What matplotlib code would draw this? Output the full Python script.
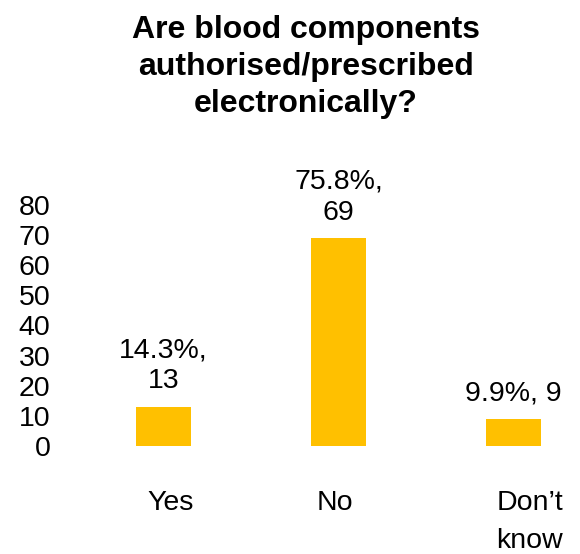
import matplotlib
matplotlib.use("Agg")
import matplotlib.pyplot as plt
from matplotlib.transforms import ScaledTranslation

categories = ["Yes", "No", "Don\u2019t\nknow"]
values = [13, 69, 9]
percent_labels = ["14.3%,\n13", "75.8%,\n69", "9.9%, 9"]
yticks = [0, 10, 20, 30, 40, 50, 60, 70, 80]
title = "Are blood components\nauthorised/prescribed\nelectronically?"

plt.rcParams['font.family'] = ['Liberation Sans', 'DejaVu Sans']

fig = plt.figure(figsize=(5.8, 5.54), dpi=100)
ax = fig.add_axes([74/580, 108/554, (580-74)/580, 241/554])
x = list(range(len(categories)))
bars = ax.bar(x, values, width=0.314, color="#FFC000")
ax.set_xlim(-0.511, 2.38)
ax.set_ylim(0, 80)
ax.set_yticks(yticks)
ax.set_yticklabels([str(t) for t in yticks], fontsize=20.5)
ax.set_xticks(x)
ax.set_xticklabels(categories, fontsize=20.5, va="top", linespacing=1.6)
ax.tick_params(axis="both", length=0)
ax.tick_params(axis="y", pad=17)
ax.tick_params(axis="x", pad=31.5)
# horizontal offsets of category labels (pixels)
label_dx = [7.5, -3.5, 16.5]
for lab, dx in zip(ax.get_xticklabels(), label_dx):
    lab.set_transform(lab.get_transform() + ScaledTranslation(dx/100, 0, fig.dpi_scale_trans))
for s in ax.spines.values():
    s.set_visible(False)
for xi, v, lab in zip(x, values, percent_labels):
    ax.annotate(lab, (xi, v), xytext=(0, 9), textcoords="offset points",
                ha="center", va="bottom", fontsize=20.5, linespacing=1.25)
fig.text(306/580, 1 - 15/554, title, ha="center", va="top", fontsize=23,
         fontweight="bold", linespacing=1.3)
fig.savefig("out.png", dpi=100)
